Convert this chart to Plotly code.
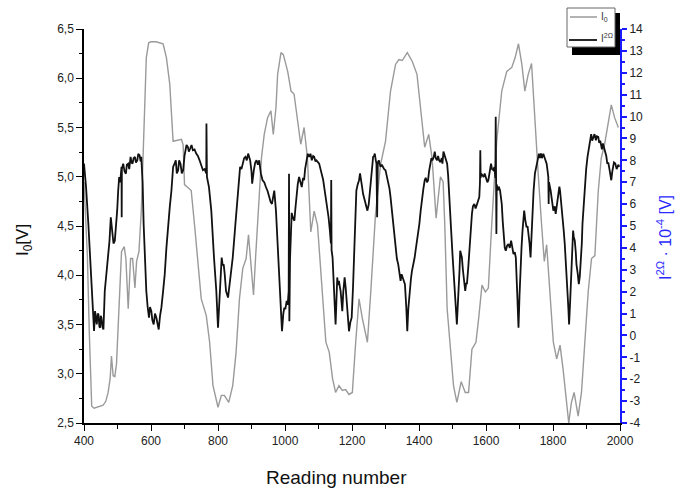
import plotly.graph_objects as go

# ---- data ----
reading_i0 = [400, 410, 416, 423, 430, 440, 450, 457, 465, 472, 478, 482, 487, 492, 497, 502, 507, 512, 520, 525,
              532, 539, 545, 552, 557, 564, 571, 579, 586, 593, 600, 615, 630, 636, 646, 656, 666, 676, 691, 696,
              700, 710, 720, 730, 740, 750, 765, 775, 785, 800, 810, 819, 832, 844, 854, 864, 874, 884, 891, 899,
              906, 912, 921, 930, 938, 948, 958, 965, 973, 978, 988, 995, 1008, 1018, 1027, 1037, 1047, 1057, 1067, 1077,
              1087, 1097, 1112, 1122, 1132, 1142, 1151, 1161, 1171, 1181, 1191, 1201, 1211, 1221, 1231, 1246, 1256, 1270, 1285, 1300,
              1315, 1330, 1340, 1350, 1365, 1380, 1394, 1404, 1417, 1429, 1439, 1451, 1464, 1472, 1477, 1484, 1493, 1503, 1513, 1526,
              1538, 1548, 1558, 1570, 1578, 1588, 1598, 1607, 1617, 1632, 1647, 1662, 1677, 1687, 1697, 1707, 1716, 1726, 1736, 1746,
              1756, 1766, 1774, 1781, 1791, 1801, 1811, 1821, 1830, 1840, 1847, 1855, 1863, 1875, 1885, 1895, 1905, 1915, 1925, 1935,
              1944, 1954, 1964, 1974, 1984, 1995]
i0_values = [4.95, 4.2, 3.4, 2.67, 2.65, 2.66, 2.67, 2.68, 2.72, 2.81, 2.95, 3.18, 2.98, 2.97, 3.1, 3.49, 3.9, 4.24, 4.29, 4.17,
             3.66, 4.17, 4.17, 3.87, 4.14, 4.24, 4.65, 5.53, 6.21, 6.36, 6.37, 6.37, 6.36, 6.35, 6.21, 5.94, 5.36, 5.37, 5.38, 5.32,
             4.92, 4.89, 4.86, 4.51, 4.17, 3.76, 3.59, 3.32, 2.88, 2.66, 2.78, 2.78, 2.71, 2.88, 3.22, 3.76, 4.07, 4.17, 4.41, 4.11,
             3.80, 4.17, 4.65, 5.2, 5.43, 5.60, 5.67, 5.43, 5.7, 6.04, 6.26, 6.24, 6.07, 5.87, 5.84, 5.60, 5.33, 5.5, 5.19, 4.44,
             4.65, 4.51, 3.83, 3.32, 3.22, 2.95, 2.81, 2.88, 2.83, 2.84, 2.79, 2.81, 3.32, 3.76, 3.56, 3.32, 3.83, 4.61, 5.12, 5.36,
             5.87, 6.14, 6.19, 6.18, 6.26, 6.17, 6.04, 5.70, 5.30, 5.43, 5.19, 4.58, 5.0, 4.95, 4.51, 3.66, 3.29, 2.88, 2.71, 2.92,
             2.81, 2.81, 3.25, 3.32, 3.56, 3.90, 3.83, 3.87, 4.51, 5.36, 5.87, 6.07, 6.11, 6.21, 6.35, 6.14, 5.87, 6.04, 6.15, 5.53,
             5.02, 4.51, 4.14, 4.31, 3.83, 3.32, 3.15, 3.29, 3.05, 2.71, 2.50, 2.71, 2.81, 2.57, 2.81, 3.32, 3.83, 4.17, 4.20, 4.85,
             5.19, 5.33, 5.53, 5.73, 5.6, 5.5]

reading_i2 = [400, 406, 413, 418, 423, 428, 430, 433, 436, 438, 441, 443, 446, 448, 450, 452, 455, 458, 462, 467,
              472, 476, 480, 483, 485, 488, 492, 496, 499, 502, 505, 508, 512, 512.5, 513, 517, 521, 525, 528, 532,
              535, 539, 542, 545, 548, 552, 555, 559, 562, 566, 569, 571, 575, 578, 582, 586, 590, 594, 597, 601,
              604, 608, 612, 616, 620, 623, 627, 631, 636, 641, 646, 651, 656, 661, 666, 669, 674, 677, 681, 684,
              688, 692, 696, 700, 703, 706, 710, 713, 717, 721, 725, 730, 735, 740, 745, 750, 755, 760, 765, 765.5,
              766, 767, 773, 780, 788, 795, 800, 805, 811, 814, 817, 820, 824, 830, 837, 844, 852, 859, 866, 870,
              874, 878, 882, 886, 890, 893, 896, 900, 902, 907, 911, 915, 919, 923, 928, 933, 938, 943, 948, 953,
              957, 961, 965, 968, 973, 978, 985, 991, 995, 998, 1001, 1005, 1008, 1011, 1012, 1013, 1015, 1018, 1020, 1023,
              1028, 1031, 1034, 1038, 1042, 1046, 1050, 1054, 1057, 1060, 1064, 1068, 1072, 1076, 1080, 1084, 1087, 1091, 1094, 1098,
              1102, 1106, 1110, 1114, 1117, 1121, 1125, 1130, 1134, 1137, 1138, 1139, 1142, 1146, 1149, 1151, 1154, 1156, 1158, 1161,
              1164, 1166, 1169, 1171, 1174, 1178, 1181, 1183, 1187, 1191, 1195, 1199, 1203, 1206, 1210, 1213, 1217, 1221, 1224, 1226,
              1230, 1233, 1237, 1241, 1244, 1246, 1250, 1253, 1256, 1259, 1263, 1266, 1268, 1271, 1273, 1275, 1277, 1280, 1283, 1285,
              1289, 1292, 1296, 1300, 1304, 1308, 1312, 1315, 1319, 1323, 1327, 1330, 1334, 1338, 1341, 1345, 1348, 1352, 1355, 1358,
              1362, 1365, 1368, 1372, 1376, 1379, 1383, 1387, 1390, 1394, 1398, 1401, 1405, 1409, 1413, 1417, 1420, 1424, 1427, 1430,
              1434, 1437, 1440, 1444, 1447, 1450, 1454, 1457, 1460, 1464, 1468, 1470, 1473, 1477, 1480, 1484, 1487, 1490, 1493, 1496,
              1500, 1503, 1506, 1508, 1511, 1513, 1516, 1518, 1521, 1523, 1526, 1528, 1531, 1533, 1536, 1538, 1541, 1543, 1547, 1550,
              1554, 1558, 1561, 1565, 1569, 1573, 1577, 1580, 1582, 1583, 1584, 1586, 1590, 1593, 1596, 1600, 1604, 1607, 1611, 1615,
              1618, 1622, 1625, 1628, 1629, 1630, 1631, 1632, 1635, 1638, 1642, 1645, 1647, 1650, 1653, 1656, 1659, 1663, 1667, 1671,
              1675, 1678, 1682, 1686, 1689, 1693, 1697, 1700, 1702, 1706, 1709, 1712, 1714, 1717, 1721, 1724, 1726, 1730, 1733, 1736,
              1738, 1742, 1746, 1750, 1754, 1758, 1761, 1764, 1767, 1771, 1774, 1777, 1781, 1784, 1786, 1787, 1788, 1793, 1797, 1801,
              1805, 1808, 1812, 1816, 1819, 1821, 1824, 1826, 1829, 1832, 1835, 1838, 1841, 1843, 1846, 1848, 1851, 1853, 1856, 1860,
              1862, 1865, 1868, 1870, 1874, 1877, 1880, 1883, 1886, 1888, 1892, 1895, 1899, 1903, 1907, 1911, 1914, 1917, 1920, 1924,
              1928, 1931, 1935, 1938, 1941, 1943, 1946, 1949, 1952, 1956, 1959, 1962, 1965, 1969, 1972, 1974, 1977, 1979, 1982, 1986,
              1990, 1995, 1998]
i2_values = [7.85, 6.8, 5.09, 3.5, 2.03, 0.8, 0.2, 1.11, 0.6, 0.5, 1.0, 0.96, 0.4, 0.35, 0.9, 0.81, 0.4, 0.27, 2.03, 2.8,
             3.56, 4.3, 5.40, 5.0, 4.48, 4.2, 4.33, 5.0, 5.70, 6.6, 7.24, 7.0, 7.70, 5.4, 7.6, 7.85, 7.5, 7.39, 7.8, 7.85,
             7.6, 8.16, 7.9, 7.85, 8.1, 8.16, 7.9, 8.0, 8.3, 8.23, 7.95, 8.16, 7.0, 5.09, 3.5, 2.03, 1.3, 0.81, 1.3, 1.11,
             0.7, 0.50, 1.0, 0.81, 0.5, 0.27, 0.9, 1.27, 2.0, 2.80, 4.0, 5.09, 5.86, 6.62, 7.70, 7.8, 8.0, 7.4, 7.55, 8.0,
             7.85, 7.4, 7.55, 8.2, 8.46, 8.7, 8.62, 8.4, 8.54, 8.7, 8.46, 8.5, 8.31, 8.2, 8.0, 7.8, 7.55, 7.6, 7.4, 9.68,
             7.3, 7.24, 6.78, 5.70, 3.57, 2.03, 0.35, 2.03, 3.56, 3.2, 3.25, 2.8, 2.03, 1.73, 2.65, 3.56, 5.09, 6.62, 7.70, 7.6,
             7.85, 8.1, 8.16, 8.0, 8.31, 8.1, 8.0, 7.5, 6.93, 7.55, 7.9, 8.0, 7.8, 8.0, 7.4, 7.09, 7.0, 6.78, 6.6, 6.32,
             6.1, 6.01, 6.4, 6.62, 5.70, 4.33, 2.34, 0.19, 1.0, 1.27, 1.2, 1.58, 1.4, 2.03, 7.39, 0.65, 3.5, 4.79, 5.6, 5.40,
             5.24, 5.8, 6.32, 6.9, 7.24, 7.0, 6.78, 7.2, 7.09, 7.6, 8.0, 8.3, 8.16, 8.3, 8.0, 8.2, 8.16, 7.95, 8.0, 7.9,
             7.85, 7.6, 7.39, 7.1, 6.78, 6.4, 6.01, 5.4, 4.79, 4.2, 7.1, 3.9, 3.56, 2.34, 1.4, 0.50, 1.8, 2.65, 2.3, 2.49,
             2.2, 2.03, 1.5, 1.11, 2.0, 2.65, 2.2, 1.73, 1.0, 0.19, 0.6, 0.81, 2.2, 3.56, 5.2, 6.62, 6.9, 7.09, 7.4, 7.24,
             6.8, 6.47, 6.2, 6.01, 5.8, 5.70, 6.0, 6.47, 7.0, 7.39, 8.16, 8.2, 8.31, 8.0, 7.85, 5.40, 7.9, 8.0, 7.8, 7.70,
             7.8, 7.70, 7.6, 7.55, 7.3, 7.09, 6.7, 6.32, 5.7, 5.09, 4.4, 3.87, 3.5, 3.25, 2.8, 2.49, 2.8, 2.65, 2.5, 2.34,
             1.3, 0.19, 1.2, 2.03, 2.6, 2.95, 3.2, 3.56, 3.9, 4.33, 4.7, 5.09, 5.7, 6.32, 6.7, 7.09, 7.2, 7.0, 7.09, 7.5,
             7.85, 8.1, 8.0, 8.16, 8.4, 8.1, 8.0, 8.2, 8.0, 7.92, 8.1, 7.85, 8.4, 8.16, 8.0, 7.85, 7.3, 6.62, 5.7, 4.79,
             3.7, 2.80, 2.1, 1.58, 1.0, 0.50, 1.3, 2.03, 3.0, 3.87, 3.7, 3.56, 3.0, 2.65, 2.3, 2.03, 2.4, 2.34, 3.1, 3.87,
             4.7, 5.55, 5.9, 6.01, 5.8, 6.01, 6.2, 6.32, 7.0, 8.46, 7.2, 7.39, 7.3, 7.24, 7.4, 7.24, 7.0, 7.09, 7.5, 7.85,
             7.6, 7.55, 7.7, 7.2, 9.99, 6.8, 4.64, 6.9, 6.62, 6.8, 6.62, 6.3, 6.01, 5.2, 4.48, 4.0, 3.87, 4.1, 4.18, 4.0,
             4.33, 4.0, 3.72, 3.8, 3.56, 2.0, 0.35, 1.8, 2.95, 4.0, 4.79, 5.3, 5.70, 5.3, 4.94, 5.0, 4.79, 4.2, 3.56, 4.6,
             5.70, 6.6, 7.39, 7.8, 8.0, 8.3, 8.1, 8.31, 8.1, 8.3, 8.16, 8.0, 7.85, 7.5, 7.24, 6.01, 7.0, 6.62, 6.0, 5.70,
             5.9, 5.55, 6.0, 6.47, 6.8, 6.62, 6.2, 5.70, 5.2, 4.79, 4.2, 3.56, 2.8, 2.03, 1.2, 0.50, 1.5, 2.34, 3.6, 4.79,
             4.5, 4.33, 3.8, 3.25, 2.8, 2.34, 2.7, 3.25, 4.2, 5.09, 6.1, 6.93, 7.6, 8.16, 8.6, 8.92, 9.2, 8.9, 9.07, 9.2,
             8.92, 9.1, 9.07, 8.8, 8.9, 8.62, 8.5, 8.77, 8.6, 8.46, 8.2, 7.85, 7.9, 7.55, 7.3, 7.09, 7.5, 7.70, 7.9, 7.85,
             7.6, 7.8, 7.7]

left_tickvals = [2.5, 3.0, 3.5, 4.0, 4.5, 5.0, 5.5, 6.0, 6.5]
left_ticktext = ["2,5", "3,0", "3,5", "4,0", "4,5", "5,0", "5,5", "6,0", "6,5"]
right_tickvals = list(range(-4, 15))
right_ticktext = [str(v) for v in right_tickvals]
legend_names = ["I<sub>0</sub>", "I<sup>2Ω</sup>"]

FONT = "Liberation Sans, Arial, sans-serif"
GREY = "#9a9a9a"
BLACK = "#111111"
BLUE = "#1a1aff"

# plot area in pixels (for placing the hand-drawn legend box)
L, R, T, B = 84, 620, 29, 423
def px(xp):
    return (xp - L) / (R - L)
def py(yp):
    return (B - yp) / (B - T)

fig = go.Figure()
fig.add_trace(go.Scatter(x=reading_i0, y=i0_values, mode="lines", name=legend_names[0],
                         line=dict(color=GREY, width=1.4), xaxis="x", yaxis="y", showlegend=False))
fig.add_trace(go.Scatter(x=reading_i2, y=i2_values, mode="lines", name=legend_names[1],
                         line=dict(color=BLACK, width=1.8), xaxis="x", yaxis="y2", showlegend=False))

shapes = [
    # legend drop shadow
    dict(type="rect", xref="paper", yref="paper", x0=px(572), x1=px(620), y0=py(55), y1=py(13),
         fillcolor="black", line=dict(width=0), layer="above"),
    # legend box
    dict(type="rect", xref="paper", yref="paper", x0=px(567), x1=px(615), y0=py(47), y1=py(8),
         fillcolor="white", line=dict(color="#666666", width=1), layer="above"),
    # legend line samples
    dict(type="line", xref="paper", yref="paper", x0=px(570), x1=px(597), y0=py(17), y1=py(17),
         line=dict(color=GREY, width=1.5), layer="above"),
    dict(type="line", xref="paper", yref="paper", x0=px(569), x1=px(597), y0=py(40), y1=py(40),
         line=dict(color=BLACK, width=1.8), layer="above"),
]

annotations = [
    dict(text=legend_names[0], xref="paper", yref="paper", x=px(599), y=py(17), xanchor="left",
         yanchor="middle", showarrow=False, font=dict(size=10, color="#333333")),
    dict(text=legend_names[1], xref="paper", yref="paper", x=px(599), y=py(38), xanchor="left",
         yanchor="middle", showarrow=False, font=dict(size=10, color="#333333")),
    dict(text="I<sub>0</sub>[V]", xref="paper", yref="paper", x=px(24), y=py(240),
         xanchor="center", yanchor="middle", textangle=-90, showarrow=False,
         font=dict(size=17, color="#111111")),
    dict(text="I<sup>2Ω</sup> · 10<sup>-4</sup> [V]", xref="paper", yref="paper", x=px(664), y=py(238),
         xanchor="center", yanchor="middle", textangle=-90, showarrow=False,
         font=dict(size=16, color="#2a2aff")),
    dict(text="Reading number", xref="paper", yref="paper", x=px(336), y=py(478),
         xanchor="center", yanchor="middle", showarrow=False, font=dict(size=19, color="#111111")),
]

fig.update_layout(
    width=681, height=491,
    margin=dict(l=L, r=681 - R, t=T, b=491 - B, autoexpand=False),
    paper_bgcolor="white", plot_bgcolor="white",
    font=dict(family=FONT, size=12, color="#222222"),
    showlegend=False,
    xaxis=dict(range=[400, 2000], dtick=200, tick0=400, ticks="outside", ticklen=6, tickwidth=1,
               tickcolor="black", showline=True, linecolor="black", linewidth=1.5,
               showgrid=False, zeroline=False,
               minor=dict(dtick=100, ticks="outside", ticklen=4, tickcolor="black", showgrid=False)),
    xaxis2=dict(range=[400, 2000], overlaying="x", side="top", anchor="y", showticklabels=False,
                dtick=100, ticks="inside", ticklen=5, tickcolor="#444444",
                showline=True, linecolor="#555555", linewidth=1.5, showgrid=False, zeroline=False),
    yaxis=dict(range=[2.5, 6.5], tickvals=left_tickvals, ticktext=left_ticktext,
               ticks="outside", ticklen=6, tickcolor="black", showline=True, linecolor="black",
               linewidth=1.5, showgrid=False, zeroline=False,
               minor=dict(dtick=0.25, ticks="outside", ticklen=3, tickcolor="black", showgrid=False)),
    yaxis2=dict(range=[-4, 14], overlaying="y", side="right", anchor="x", tickvals=right_tickvals,
                ticktext=right_ticktext, ticks="outside", ticklen=5, tickwidth=1.5, tickcolor=BLUE,
                showline=True, linecolor=BLUE, linewidth=2, showgrid=False, zeroline=False,
                minor=dict(dtick=0.5, ticks="outside", ticklen=3, tickcolor=BLUE, showgrid=False)),
    shapes=shapes,
    annotations=annotations,
)

fig.write_html("out.html", config={"displayModeBar": False},
               post_script="document.body.style.margin='0';")
